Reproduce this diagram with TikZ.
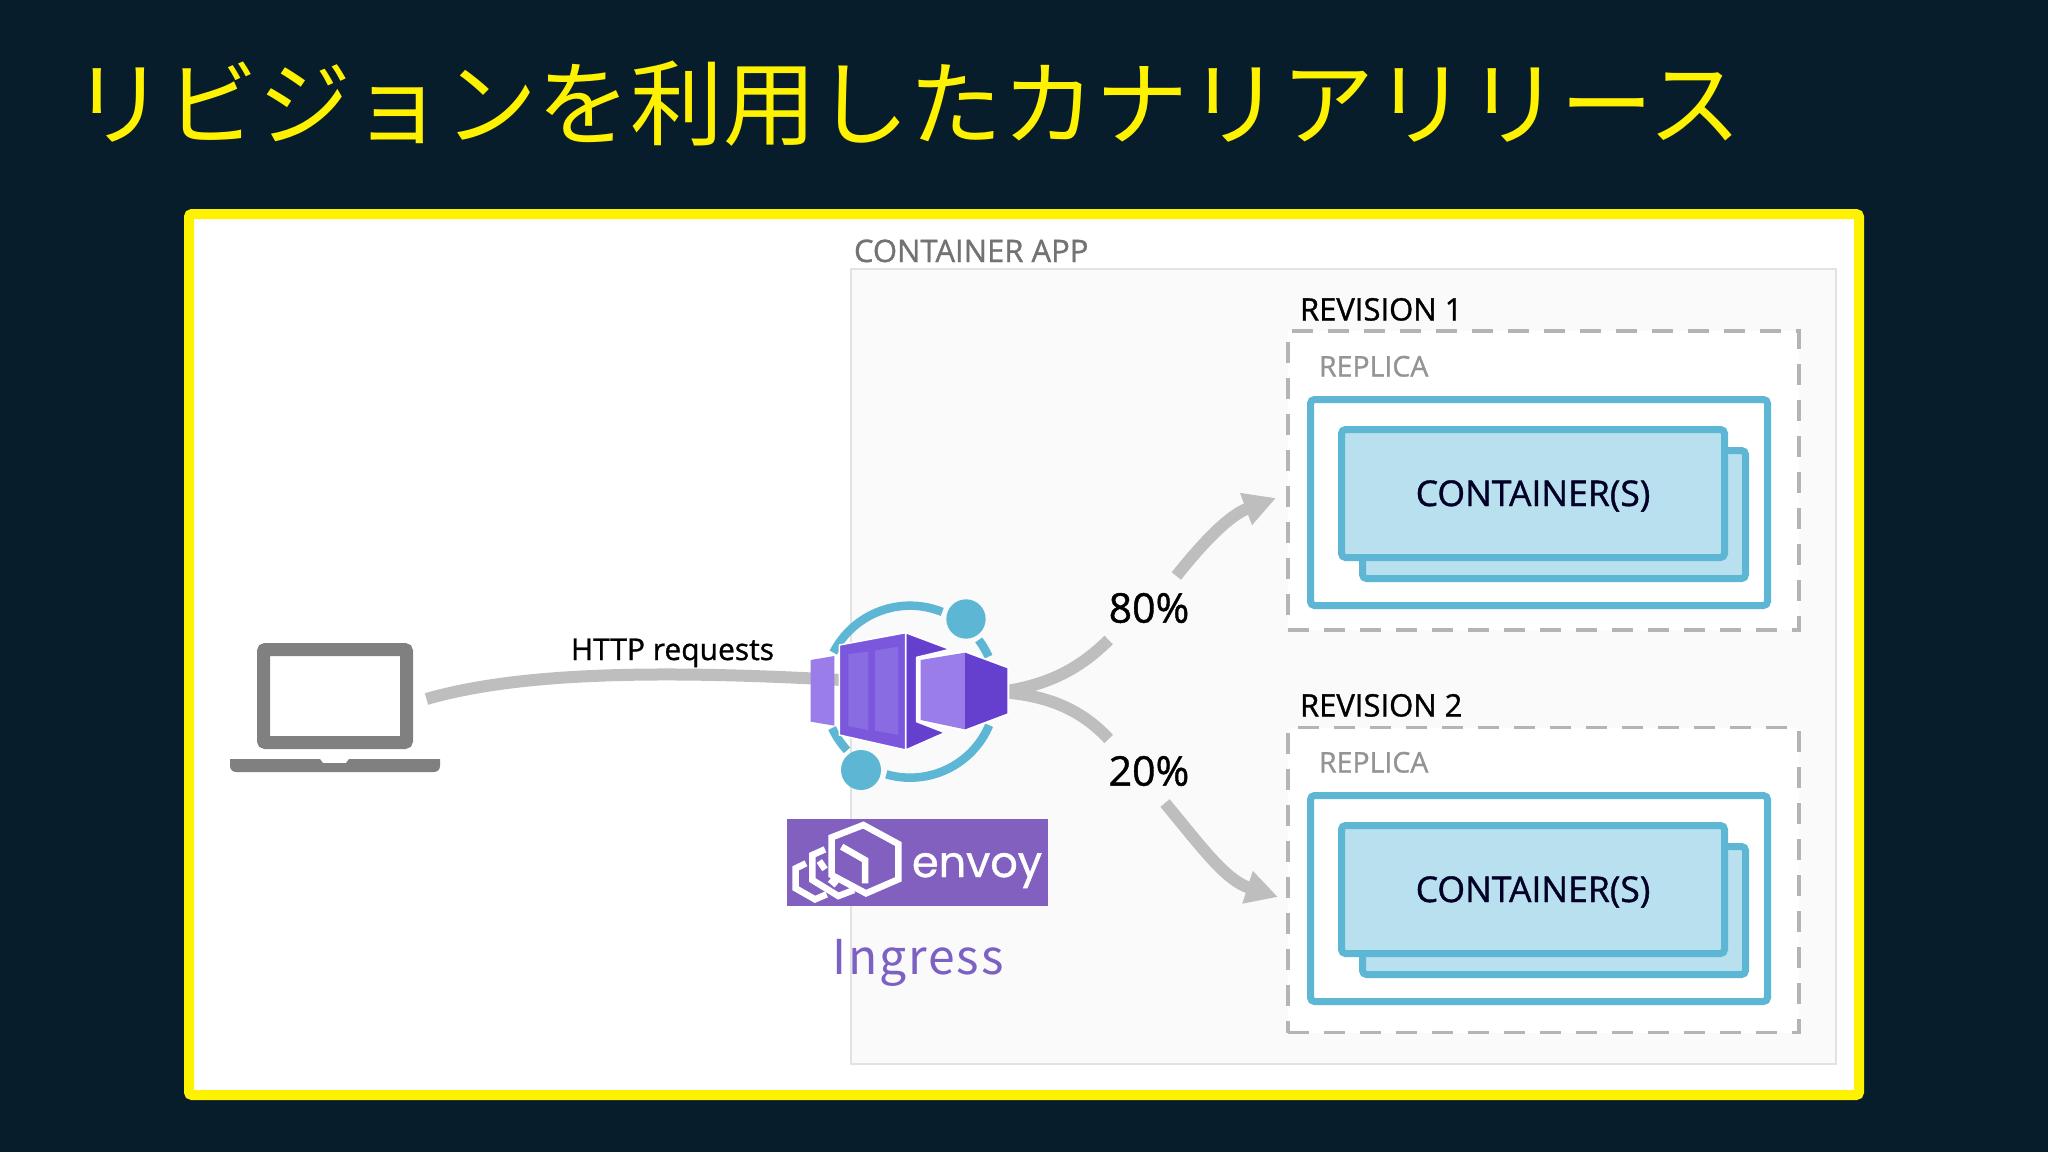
\documentclass[tikz,border=0pt]{standalone}
\usepackage{fontspec}
\setmainfont[FakeBold=1]{Open Sans}
\setsansfont{Open Sans}
\newfontfamily\cjkfont{Noto Sans CJK JP}
\newfontfamily\ingressfont[LetterSpace=4]{Noto Sans CJK JP}
\newfontfamily\logofont[FakeBold=1]{Poppins}
\usetikzlibrary{positioning, calc, arrows.meta}

\definecolor{slidebg}{HTML}{071D2B}
\definecolor{appfill}{HTML}{FAFAFA}
\definecolor{appline}{HTML}{E2E2E2}
\definecolor{dashgray}{HTML}{B4B4B4}
\definecolor{flowgray}{HTML}{BEBEBE}
\definecolor{laptopgray}{HTML}{808080}
\definecolor{rimblue}{HTML}{5CB6D4}
\definecolor{boxblue}{HTML}{B8E0EE}
\definecolor{logopurple}{HTML}{8260C0}
\definecolor{ingresspurple}{HTML}{7D60C4}
\definecolor{cubelight}{HTML}{9B7DE9}
\definecolor{cubemid}{HTML}{7A57DC}
\definecolor{cubedark}{HTML}{6540CF}
\definecolor{cubepanel}{HTML}{8A6CE2}

\tikzset{
  fs/.style={font=\fontsize{#1}{#1}\selectfont},
  plainbox/.style={rectangle, inner sep=0pt, outer sep=0pt},
  revbox/.style={plainbox, draw=dashgray, fill=white, line width=3.5pt, dash pattern=on 21pt off 15pt},
  replicabox/.style={plainbox, draw=rimblue, fill=white, line width=7pt, rounded corners=4pt,
    minimum width=457pt, minimum height=206pt},
  ctrbox/.style={plainbox, draw=rimblue, fill=boxblue, line width=7pt, rounded corners=4pt,
    minimum width=383pt, minimum height=128pt, text=black!85!blue},
  txt/.style={inner sep=0pt, outer sep=0pt, anchor=base west},
  flow/.style={draw=flowgray, line width=12pt},
  flowtip/.style={flow, -{Triangle[length=32pt,width=32pt]}},
  ring/.style={draw=rimblue, line width=8.5pt},
  facet/.style={draw=white, line width=1.5pt, line join=round},
  hexline/.style={draw=white, line width=6.5pt, line join=miter},
}

\begin{document}
\begin{tikzpicture}[x=1pt,y=1pt]

  % slide
  \fill[slidebg] (0,0) rectangle (2048,-1152);
  \useasboundingbox (0,0) rectangle (2048,-1152);
  \node[txt, text=yellow, fs=93] (title) at (72,-138) {\cjkfont リビジョンを利用したカナリアリリース};

  % frame and app area
  \node[plainbox, draw=yellow, fill=white, line width=10pt, rounded corners=3pt,
    minimum width=1670pt, minimum height=881pt] (frame) at (1024,-654.5) {};
  \node[plainbox, draw=appline, fill=appfill, line width=2pt,
    minimum width=985pt, minimum height=795pt] (app) at (1343.5,-666.5) {};
  \node[txt, text=laptopgray!90!black, fs=31] (applabel) at (854,-262) {CONTAINER APP};

  % revisions
  \foreach \i/\yc/\h/\dy in {1/480.5/299/0, 2/880/305/396} {
    \node[revbox, minimum width=511pt, minimum height=\h pt] (rev\i) at (1543.5,-\yc) {};
    \node[txt, text=black, fs=31] (revlabel\i) at (1300,-320.5-\dy) {REVISION \i};
    \node[txt, text=black!42, fs=28.5] (replabel\i) at (1319,-376.5-\dy) {REPLICA};
    \node[replicabox] (replica\i) at (1539,-502.5-\dy) {};
    \node[ctrbox] (back\i) at (1554,-514.5-\dy) {};
    \node[ctrbox, fs=35.5] (front\i) at (1533,-493.5-\dy) {\raisebox{-12.5pt}[0pt][0pt]{CONTAINER(S)}};
  }

  % laptop
  \node[plainbox, draw=laptopgray, fill=white, line width=13pt, rounded corners=2pt,
    minimum width=143pt, minimum height=93pt] (laptop) at (335,-696) {};
  \fill[laptopgray] (230,-759) -- (320,-759) -- (323,-763) -- (346,-763) -- (349,-759) -- (440,-759)
    -- (440,-766) arc (0:-90:6) -- (236,-772) arc (270:180:6) -- cycle;

  % connector points and percent labels
  \node[plainbox, minimum size=174pt] (hub) at (910,-692) {};
  \coordinate (hubin) at (842,-680);
  \coordinate (hubout) at (1000,-692);
  \coordinate (tipA) at (1276,-498);
  \coordinate (tipB) at (1278,-897);
  \node[plainbox, minimum width=78pt, minimum height=64pt, fs=41, text=black] (pctA) at (1149,-608) {80\%};
  \node[plainbox, minimum width=78pt, minimum height=64pt, fs=41, text=black] (pctB) at (1149,-771) {20\%};

  % connectors
  \draw[flow] ([xshift=20pt,yshift=-3pt]laptop.east) .. controls (520,-672) and (660,-670) .. (hubin);
  \draw[flow] (hubout) .. controls (1050,-685) and (1080,-668) .. (pctA.south west);
  \draw[flow] (hubout) .. controls (1045,-695) and (1080,-708) .. (pctB.north west);
  \draw[flowtip] ([xshift=-13pt]pctA.north east) .. controls (1205,-540) and (1230,-515) .. (tipA);
  \draw[flowtip] ([xshift=16pt]pctB.south) .. controls (1200,-845) and (1225,-880) .. (tipB);
  \node[txt, text=black, fs=30] (httplabel) at (571,-660) {HTTP requests};

  % hub icon
  \begin{scope}[shift={(790,-580)},scale=1/3]
    \def\R{258}
    \draw[ring] (360,-335) ++(153:\R) arc (153:68:\R);
    \draw[ring] (360,-335) ++(37:\R) arc (37:24:\R);
    \draw[ring] (360,-335) ++(205:\R) arc (205:223:\R);
    \draw[ring] (360,-335) ++(254:\R) arc (254:337:\R);
    \fill[rimblue] (528,-117) circle (59);
    \fill[rimblue] (213,-570) circle (60);
    \fill[cubelight] (62,-240) -- (133,-228) -- (133,-437) -- (62,-425) -- cycle;
    \draw[facet, fill=cubedark] (347,-158) -- (480,-208) -- (380,-232) -- (380,-425) -- (465,-458) -- (347,-510) -- cycle;
    \draw[facet, fill=cubemid] (148,-195) -- (347,-158) -- (347,-510) -- (148,-465) -- cycle;
    \fill[cubepanel] (175,-222) -- (235,-215) -- (235,-450) -- (175,-438) -- cycle;
    \fill[cubepanel] (255,-212) -- (325,-200) -- (325,-465) -- (255,-452) -- cycle;
    \draw[facet, line width=4pt] (392,-240) -- (525,-218) -- (652,-265) -- (652,-400) -- (525,-448) -- (392,-420) -- cycle;
    \fill[cubelight] (392,-240) -- (525,-218) -- (525,-448) -- (392,-420) -- cycle;
    \fill[cubedark] (525,-218) -- (652,-265) -- (652,-400) -- (525,-448) -- cycle;
  \end{scope}

  % envoy logo
  \node[plainbox, fill=logopurple, minimum width=261pt, minimum height=87pt] (logo) at (917.5,-862.5) {};
  \begin{scope}[shift={(780,-800)},scale=1/3]
    \draw[hexline] (250,-75) -- (355,-132) -- (355,-238) -- (258,-280) -- (155,-225) -- (155,-112) -- cycle;
    \draw[hexline] (185,-140) -- (255,-180) -- (255,-250);
    \draw[hexline] (135,-148) -- (97,-165) -- (97,-240) -- (175,-288) -- (222,-270);
    \draw[hexline] (78,-190) -- (47,-205) -- (47,-265) -- (105,-298) -- (140,-283);
    \draw[hexline] (118,-183) -- (135,-208);
    \draw[hexline] (150,-238) -- (170,-255);
  \end{scope}
  \node[txt, text=white, fs=43] (envoy) at (912,-877) {\logofont envoy};

  % ingress
  \node[inner sep=0pt, anchor=base, text=ingresspurple, fs=48] (ingress) at (918,-974) {\ingressfont Ingress};

\end{tikzpicture}
\end{document}
